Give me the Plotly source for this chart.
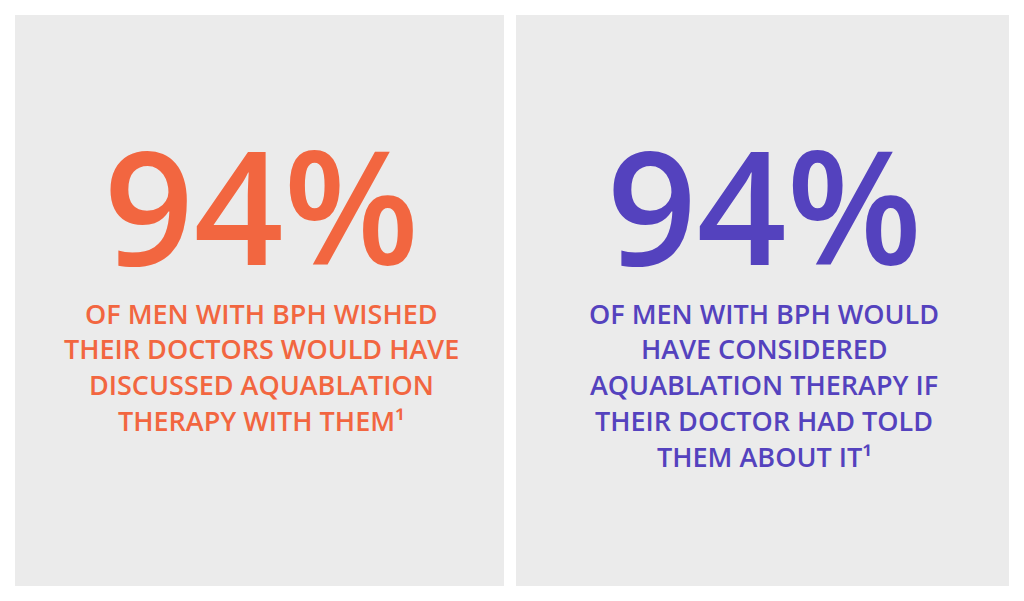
import plotly.graph_objects as go

# ---- data ----
percent_values = [94, 94]
stat_colors = ["#F26640", "#5442BE"]
left_lines = [
    "OF MEN WITH BPH WISHED",
    "THEIR DOCTORS WOULD HAVE",
    "DISCUSSED AQUABLATION",
    "THERAPY WITH THEM¹",
]
right_lines = [
    "OF MEN WITH BPH WOULD",
    "HAVE CONSIDERED",
    "AQUABLATION THERAPY IF",
    "THEIR DOCTOR HAD TOLD",
    "THEM ABOUT IT¹",
]
panel_lines = [left_lines, right_lines]

# ---- layout geometry (page pixel coordinates; page body has an 8px margin) ----
W, H = 1024, 601
OFF = 8
panels = [(15, 504), (516, 1009)]
panel_top, panel_bottom = 15, 586
panel_fill = "#EBEBEB"
big_y = 204
line_y0 = 313
line_step = 35.8

fig = go.Figure()
shapes = []
annotations = []
for i, (x0, x1) in enumerate(panels):
    shapes.append(dict(type="rect", xref="x", yref="y", x0=x0, x1=x1,
                       y0=panel_top, y1=panel_bottom,
                       fillcolor=panel_fill, line=dict(width=0), layer="below"))
    cx = (x0 + x1) / 2 + 1.5
    annotations.append(dict(
        x=cx, y=big_y, xref="x", yref="y", showarrow=False,
        text=f"{percent_values[i]}%", xanchor="center", yanchor="middle",
        height=130, valign="middle",
        font=dict(family="Open Sans", size=157, color=stat_colors[i], weight=600),
    ))
    for j, line in enumerate(panel_lines[i]):
        annotations.append(dict(
            x=cx, y=line_y0 + j * line_step, xref="x", yref="y", showarrow=False,
            text=line, xanchor="center", yanchor="middle",
            font=dict(family="Open Sans", size=27, color=stat_colors[i], weight=600),
        ))

fig.update_layout(
    width=W - OFF, height=H - OFF,
    margin=dict(l=0, r=0, t=0, b=0),
    paper_bgcolor="white", plot_bgcolor="white",
    xaxis=dict(range=[OFF, W], visible=False, fixedrange=True),
    yaxis=dict(range=[H, OFF], visible=False, fixedrange=True),
    shapes=shapes, annotations=annotations, showlegend=False,
)
fig.write_html("out.html")
